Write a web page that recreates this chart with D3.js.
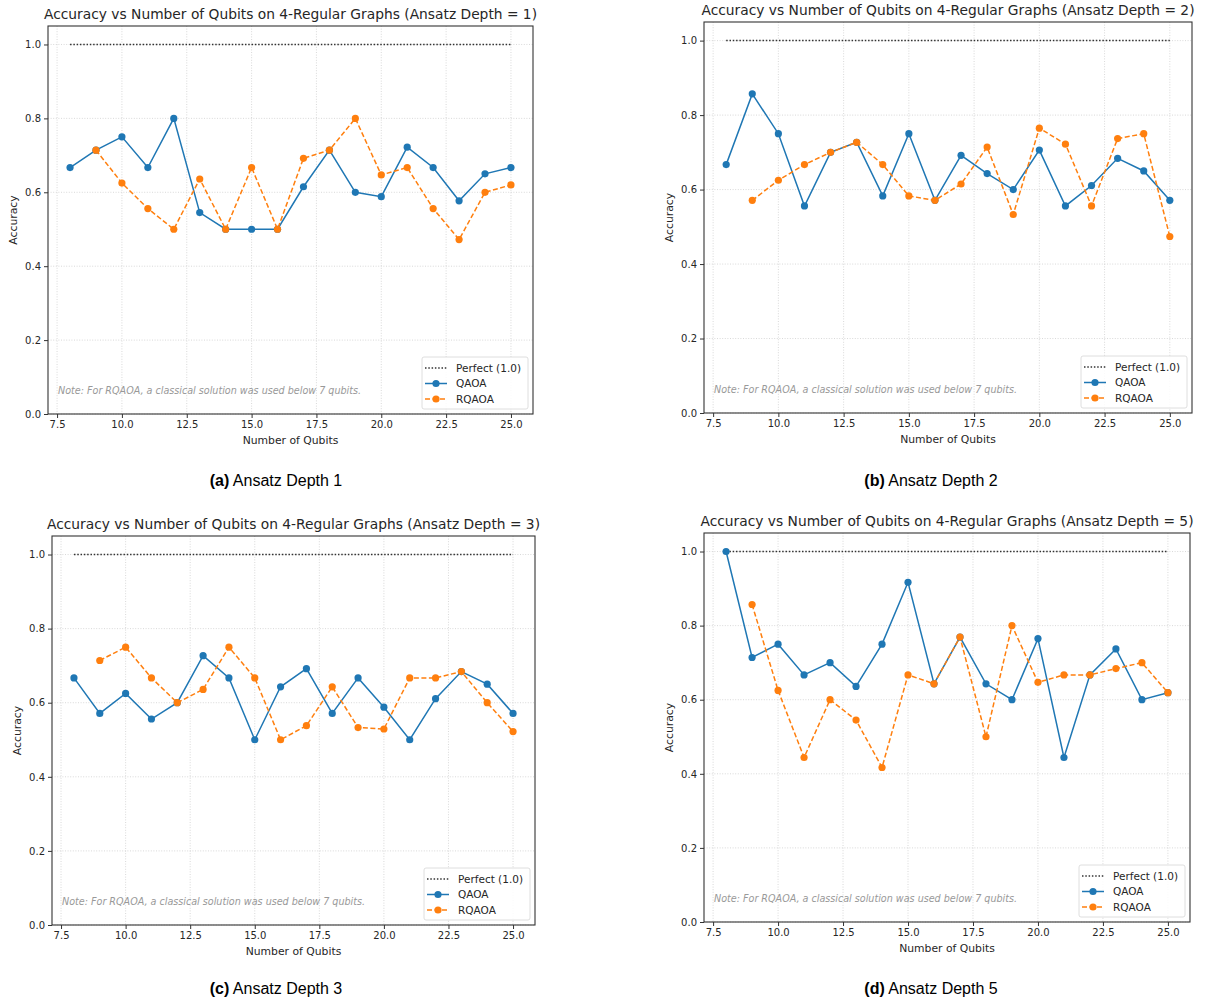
<!DOCTYPE html>
<meta charset="utf-8">
<style>
  body { margin: 0; background: #fff; }
  svg { display: block; }
  .tick text { font: 10px "DejaVu Sans", sans-serif; fill: #262626; }
  .tick line { stroke: #333; }
  .domain { stroke: none; }
  .title { font: 13.8px "DejaVu Sans", sans-serif; fill: #262626; text-anchor: middle; }
  .axlabel { font: 10.8px "DejaVu Sans", sans-serif; fill: #262626; text-anchor: middle; }
  .note { font: italic 9.6px "DejaVu Sans", sans-serif; fill: #999; }
  .legtext { font: 10.5px "DejaVu Sans", sans-serif; fill: #262626; }
  .caption { font: 16px "Liberation Sans", Arial, sans-serif; fill: #000; text-anchor: middle; }
</style>
<body>
<svg width="1205" height="1001"></svg>
<script src="https://cdnjs.cloudflare.com/ajax/libs/d3/7.8.5/d3.min.js"></script>
<script>

var qubits = [8, 9, 10, 11, 12, 13, 14, 15, 16, 17, 18, 19, 20, 21, 22, 23, 24, 25];
var xTicks = [7.5, 10, 12.5, 15, 17.5, 20, 22.5, 25];
var yTicks = [0, 0.2, 0.4, 0.6, 0.8, 1.0];

// depth 1
var qaoaD1  = [0.667, 0.714, 0.75, 0.667, 0.8, 0.545, 0.5, 0.5, 0.5, 0.615, 0.714, 0.6, 0.588, 0.722, 0.667, 0.577, 0.65, 0.667];
var rqaoaD1 = [null, 0.714, 0.625, 0.556, 0.5, 0.636, 0.5, 0.667, 0.5, 0.692, 0.714, 0.8, 0.647, 0.667, 0.556, 0.472, 0.6, 0.62];
// depth 2
var qaoaD2  = [0.667, 0.857, 0.75, 0.556, 0.7, 0.727, 0.583, 0.75, 0.571, 0.692, 0.643, 0.6, 0.706, 0.556, 0.611, 0.684, 0.65, 0.571];
var rqaoaD2 = [null, 0.571, 0.625, 0.667, 0.7, 0.727, 0.667, 0.583, 0.571, 0.615, 0.714, 0.533, 0.765, 0.722, 0.556, 0.737, 0.75, 0.474];
// depth 3
var qaoaD3  = [0.667, 0.571, 0.625, 0.556, 0.6, 0.727, 0.667, 0.5, 0.643, 0.692, 0.571, 0.667, 0.588, 0.5, 0.611, 0.684, 0.65, 0.571];
var rqaoaD3 = [null, 0.714, 0.75, 0.667, 0.6, 0.636, 0.75, 0.667, 0.5, 0.538, 0.643, 0.533, 0.529, 0.667, 0.667, 0.684, 0.6, 0.522];
// depth 5
var qaoaD5  = [1.0, 0.714, 0.75, 0.667, 0.7, 0.636, 0.75, 0.917, 0.643, 0.769, 0.643, 0.6, 0.765, 0.444, 0.667, 0.737, 0.6, 0.619];
var rqaoaD5 = [null, 0.857, 0.625, 0.444, 0.6, 0.545, 0.417, 0.667, 0.643, 0.769, 0.5, 0.8, 0.647, 0.667, 0.667, 0.684, 0.7, 0.619];

var legendLabels = ["Perfect (1.0)", "QAOA", "RQAOA"];
var noteText = "Note: For RQAOA, a classical solution was used below 7 qubits.";

var blue = "#1f77b4", orange = "#ff7f0e";

var panels = [
  {depth: 1, tag: "(a)", qaoa: qaoaD1, rqaoa: rqaoaD1, l: 48, r: 533, t: 26, b: 414, cx: 276, cy: 486},
  {depth: 2, tag: "(b)", qaoa: qaoaD2, rqaoa: rqaoaD2, l: 704, r: 1192, t: 22, b: 413, cx: 931, cy: 486},
  {depth: 3, tag: "(c)", qaoa: qaoaD3, rqaoa: rqaoaD3, l: 52, r: 535, t: 536, b: 925, cx: 276, cy: 994},
  {depth: 5, tag: "(d)", qaoa: qaoaD5, rqaoa: rqaoaD5, l: 704, r: 1190, t: 533, b: 922, cx: 931, cy: 994}
];

var svg = d3.select("svg");

panels.forEach(function(p) {
  var x = d3.scaleLinear().domain([7.15, 25.85]).range([p.l, p.r]);
  var y = d3.scaleLinear().domain([0, 1.05]).range([p.b, p.t]);
  var g = svg.append("g");

  // grid
  g.selectAll(".gx").data(xTicks).enter().append("line")
      .attr("x1", function(d) { return x(d); }).attr("x2", function(d) { return x(d); })
      .attr("y1", p.t).attr("y2", p.b)
      .attr("stroke", "#c8c8c8").attr("stroke-width", 0.7).attr("stroke-dasharray", "1,1.6");
  g.selectAll(".gy").data(yTicks).enter().append("line")
      .attr("y1", function(d) { return y(d); }).attr("y2", function(d) { return y(d); })
      .attr("x1", p.l).attr("x2", p.r)
      .attr("stroke", "#c8c8c8").attr("stroke-width", 0.7).attr("stroke-dasharray", "1,1.6");

  // axes
  g.append("g").attr("transform", "translate(0," + p.b + ")")
      .call(d3.axisBottom(x).tickValues(xTicks).tickFormat(d3.format(".1f")).tickSize(4).tickPadding(3));
  g.append("g").attr("transform", "translate(" + p.l + ",0)")
      .call(d3.axisLeft(y).tickValues(yTicks).tickFormat(d3.format(".1f")).tickSize(4).tickPadding(3));
  g.append("rect").attr("x", p.l).attr("y", p.t)
      .attr("width", p.r - p.l).attr("height", p.b - p.t)
      .attr("fill", "none").attr("stroke", "#333").attr("stroke-width", 1.1);

  // perfect line
  g.append("line")
      .attr("x1", x(qubits[0])).attr("x2", x(qubits[qubits.length - 1]))
      .attr("y1", y(1)).attr("y2", y(1))
      .attr("stroke", "#333").attr("stroke-width", 1.5).attr("stroke-dasharray", "1.5,1.8");

  var line = d3.line()
      .defined(function(d) { return d[1] != null; })
      .x(function(d) { return x(d[0]); })
      .y(function(d) { return y(d[1]); });

  function series(vals, color, dash) {
    var pts = qubits.map(function(q, i) { return [q, vals[i]]; });
    g.append("path").datum(pts)
        .attr("d", line).attr("fill", "none")
        .attr("stroke", color).attr("stroke-width", 1.5)
        .attr("stroke-dasharray", dash);
    g.selectAll(null).data(pts.filter(function(d) { return d[1] != null; })).enter()
      .append("circle")
        .attr("cx", function(d) { return x(d[0]); })
        .attr("cy", function(d) { return y(d[1]); })
        .attr("r", 3.6).attr("fill", color);
  }
  series(p.qaoa, blue, null);
  series(p.rqaoa, orange, "5,2.5");

  // note
  g.append("text").attr("class", "note")
      .attr("x", p.l + 10).attr("y", p.b - 20).text(noteText);

  // legend
  var lw = 106, lh = 52;
  var lg = g.append("g").attr("transform", "translate(" + (p.r - 5 - lw) + "," + (p.b - 5 - lh) + ")");
  lg.append("rect").attr("width", lw).attr("height", lh).attr("rx", 2)
      .attr("fill", "#fff").attr("fill-opacity", 0.85)
      .attr("stroke", "#d6d6d6").attr("stroke-width", 0.8);
  var styles = [
    {c: "#333", dash: "1.5,1.8", dot: false},
    {c: blue, dash: null, dot: true},
    {c: orange, dash: "5,2.5", dot: true}
  ];
  legendLabels.forEach(function(txt, i) {
    var yy = 11 + i * 15.5;
    var s = styles[i];
    lg.append("line").attr("x1", 3).attr("x2", 25).attr("y1", yy).attr("y2", yy)
        .attr("stroke", s.c).attr("stroke-width", 1.5).attr("stroke-dasharray", s.dash);
    if (s.dot) lg.append("circle").attr("cx", 14).attr("cy", yy).attr("r", 3.6).attr("fill", s.c);
    lg.append("text").attr("class", "legtext").attr("x", 34).attr("y", yy + 3.8).text(txt);
  });

  // labels
  g.append("text").attr("class", "title")
      .attr("x", (p.l + p.r) / 2).attr("y", p.t - 7)
      .text("Accuracy vs Number of Qubits on 4-Regular Graphs (Ansatz Depth = " + p.depth + ")");
  g.append("text").attr("class", "axlabel")
      .attr("x", (p.l + p.r) / 2).attr("y", p.b + 30).text("Number of Qubits");
  g.append("text").attr("class", "axlabel")
      .attr("transform", "translate(" + (p.l - 31) + "," + ((p.t + p.b) / 2) + ") rotate(-90)")
      .text("Accuracy");

  var cap = svg.append("text").attr("class", "caption").attr("x", p.cx).attr("y", p.cy);
  cap.append("tspan").attr("font-weight", "bold").text(p.tag);
  cap.append("tspan").text(" Ansatz Depth " + p.depth);
});

</script>
</body>
